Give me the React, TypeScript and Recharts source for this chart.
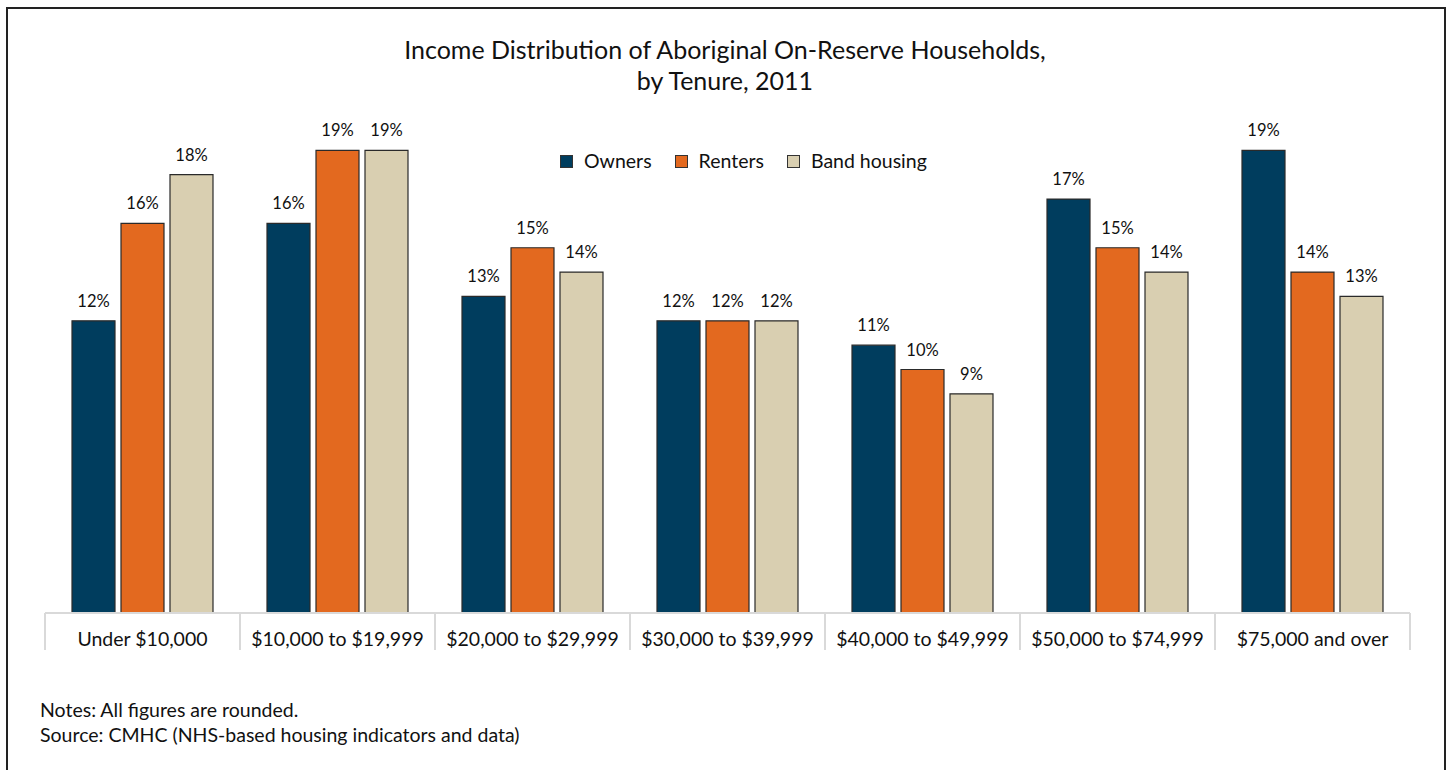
import React from "react";
import { BarChart, Bar, XAxis, YAxis, LabelList } from "recharts";

const categories = [
  "Under $10,000",
  "$10,000 to $19,999",
  "$20,000 to $29,999",
  "$30,000 to $39,999",
  "$40,000 to $49,999",
  "$50,000 to $74,999",
  "$75,000 and over",
];
const owners = [12, 16, 13, 12, 11, 17, 19];
const renters = [16, 19, 15, 12, 10, 15, 14];
const bandHousing = [18, 19, 14, 12, 9, 14, 13];

const data = categories.map((name, i) => ({
  name,
  owners: owners[i],
  renters: renters[i],
  band: bandHousing[i],
}));

const FONT = "Lato, 'Open Sans', sans-serif";
const W = 1449;
const H = 770;
const M = { top: 126, right: 39, bottom: 117, left: 45 };
const band = (W - M.left - M.right) / categories.length;

const series = [
  { key: "owners", label: "Owners", color: "#003d5e" },
  { key: "renters", label: "Renters", color: "#e3691f" },
  { key: "band", label: "Band housing", color: "#d9cfb1" },
];

const Tick = (props: any) => {
  const { x, y, payload, index } = props;
  const left = x - band / 2;
  return (
    <g>
      <line x1={left} y1={y - 8} x2={left} y2={y + 29} stroke="#d9d9d9" strokeWidth={2} />
      {index === categories.length - 1 && (
        <line x1={left + band} y1={y - 8} x2={left + band} y2={y + 29} stroke="#d9d9d9" strokeWidth={2} />
      )}
      <text x={x} y={y + 25} textAnchor="middle" fontSize={19.5} fill="#111" fontFamily={FONT}>
        {payload.value}
      </text>
    </g>
  );
};

export default function App() {
  return (
    <div style={{ position: "absolute", left: 0, top: 0, width: W, height: H, overflow: "hidden", background: "#fff" }}>
      <div style={{ position: "absolute", left: 6, top: 7, width: 1436, height: 800, border: "2px solid #222" }} />
      <div
        style={{
          position: "absolute",
          top: 34,
          left: 0,
          width: 1450,
          textAlign: "center",
          fontFamily: FONT,
          fontSize: 25,
          lineHeight: "31px",
          color: "#111",
        }}
      >
        Income Distribution of Aboriginal On-Reserve Households,
        <br />
        by Tenure, 2011
      </div>
      <div style={{ position: "absolute", left: 0, top: 0 }}>
        <BarChart width={W} height={H} data={data} margin={M} barCategoryGap={27} barGap={6}>
          <XAxis
            dataKey="name"
            height={40}
            axisLine={{ stroke: "#d9d9d9", strokeWidth: 2 }}
            tickLine={false}
            tick={<Tick />}
            interval={0}
          />
          <YAxis hide domain={[0, 20]} />
          {series.map((s) => (
            <Bar key={s.key} dataKey={s.key} fill={s.color} stroke="#2a2a2a" strokeWidth={1.2} isAnimationActive={false}>
              <LabelList
                dataKey={s.key}
                position="top"
                offset={14}
                formatter={(v: any) => `${v}%`}
                style={{ fontFamily: FONT, fontSize: 16.5, fill: "#111" }}
              />
            </Bar>
          ))}
        </BarChart>
      </div>
      <div
        style={{
          position: "absolute",
          top: 149,
          left: 560,
          display: "flex",
          gap: 23,
          fontFamily: FONT,
          fontSize: 19.5,
          lineHeight: "24px",
          color: "#111",
        }}
      >
        {series.map((s) => (
          <div key={s.key} style={{ display: "flex", alignItems: "center" }}>
            <span style={{ width: 11, height: 11, background: s.color, border: "1px solid #333", marginRight: 11 }} />
            {s.label}
          </div>
        ))}
      </div>
      <div style={{ position: "absolute", left: 40, top: 697, fontFamily: FONT, fontSize: 19.5, lineHeight: "25px", color: "#111" }}>
        Notes: All figures are rounded.
        <br />
        Source: CMHC (NHS-based housing indicators and data)
      </div>
    </div>
  );
}
